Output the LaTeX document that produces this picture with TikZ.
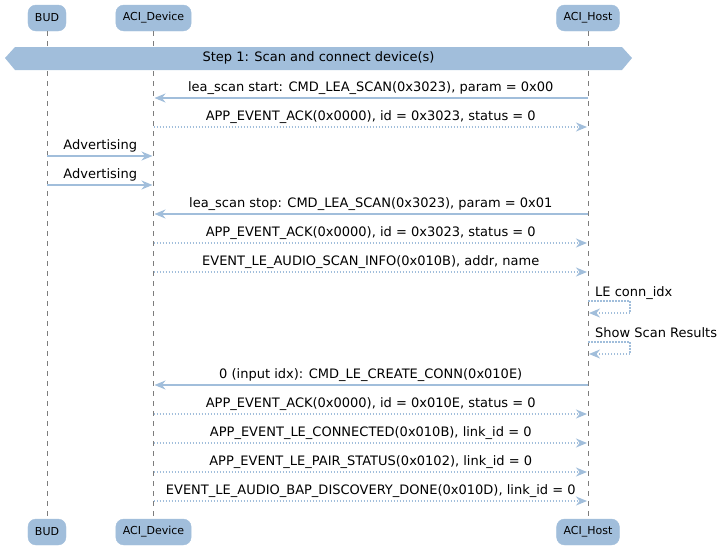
\documentclass[tikz,border=0pt]{standalone}
\usepackage{fontspec}
\setmainfont{DejaVu Sans}
\usetikzlibrary{arrows.meta}

\definecolor{seqblue}{RGB}{161,190,219}
\definecolor{lifegray}{RGB}{125,125,125}

\tikzset{
    actor/.style={fill=seqblue, draw=seqblue, rounded corners=8pt, minimum height=26pt,
        inner xsep=7pt, inner ysep=0pt, font=\fontsize{11}{13}\selectfont},
    lifeline/.style={draw=lifegray, line width=0.8pt, dash pattern=on 5pt off 5pt},
    call/.style={draw=seqblue, line width=1.5pt, shorten >=1pt,
        -{Stealth[length=11pt, width=9pt, inset=3.5pt]}},
    reply/.style={call, dash pattern=on 1.5pt off 1.5pt},
    lbl/.style={anchor=base, yshift=7pt, inner sep=0pt, font=\fontsize{13}{15}\selectfont},
    selflbl/.style={anchor=base west, inner sep=0pt, font=\fontsize{13}{15}\selectfont}
}

\begin{document}
\begin{tikzpicture}[x=1pt, y=-1pt]
    \useasboundingbox (0,0) rectangle (724,550);

    % Define the participants (top and bottom)
    \node[actor] (bud)   at (47,18)  {BUD};
    \node[actor] (dev)   at (153.5,18) {ACI\_Device};
    \node[actor] (host)  at (588,18) {ACI\_Host};
    \node[actor] (budB)  at (47,532)  {BUD};
    \node[actor] (devB)  at (153.5,532) {ACI\_Device};
    \node[actor] (hostB) at (588,532) {ACI\_Host};

    % Lifelines
    \draw[lifeline] (bud.south) -- (budB.north);
    \draw[lifeline] (dev.south) -- (devB.north);
    \draw[lifeline] (host.south) -- (hostB.north);

    % Step banner
    \fill[seqblue] (5,58) -- (15,47) -- (622,47) -- (632,58) -- (622,70) -- (15,70) -- cycle;
    \node[inner sep=0pt, font=\fontsize{13}{15}\selectfont] (step1) at (318.5,58) {Step 1: Scan and connect device(s)};

    % Rows of the messages
    \foreach \n/\y in {1/98, 2/127, 3/156, 4/185, 5/214, 6/243, 7/272, 8/301,
                       9/342, 10/385, 11/414, 12/443, 13/472, 14/501}
        \coordinate (r\n) at (0,\y);

    % Messages
    \draw[call]  (host |- r1) -- node[lbl] (m1) {lea\_scan start: CMD\_LEA\_SCAN(0x3023), param = 0x00} (dev |- r1);
    \draw[reply] (dev |- r2) -- node[lbl] (m2) {APP\_EVENT\_ACK(0x0000), id = 0x3023, status = 0} (host |- r2);
    \draw[call]  (bud |- r3) -- node[lbl] (m3) {Advertising} (dev |- r3);
    \draw[call]  (bud |- r4) -- node[lbl] (m4) {Advertising} (dev |- r4);
    \draw[call]  (host |- r5) -- node[lbl] (m5) {lea\_scan stop: CMD\_LEA\_SCAN(0x3023), param = 0x01} (dev |- r5);
    \draw[reply] (dev |- r6) -- node[lbl] (m6) {APP\_EVENT\_ACK(0x0000), id = 0x3023, status = 0} (host |- r6);
    \draw[reply] (dev |- r7) -- node[lbl] (m7) {EVENT\_LE\_AUDIO\_SCAN\_INFO(0x010B), addr, name} (host |- r7);

    % Self messages on the host
    \node[selflbl] (s1) at ([xshift=7pt, yshift=5pt]host |- r8) {LE conn\_idx};
    \draw[reply] (host |- r8) -- ++(42,0) -- ++(0,12) -- ++(-42,0);
    \node[selflbl] (s2) at ([xshift=7pt, yshift=5pt]host |- r9) {Show Scan Results};
    \draw[reply] (host |- r9) -- ++(42,0) -- ++(0,12) -- ++(-42,0);

    \draw[call]  (host |- r10) -- node[lbl] (m10) {0 (input idx): CMD\_LE\_CREATE\_CONN(0x010E)} (dev |- r10);
    \draw[reply] (dev |- r11) -- node[lbl] (m11) {APP\_EVENT\_ACK(0x0000), id = 0x010E, status = 0} (host |- r11);
    \draw[reply] (dev |- r12) -- node[lbl] (m12) {APP\_EVENT\_LE\_CONNECTED(0x010B), link\_id = 0} (host |- r12);
    \draw[reply] (dev |- r13) -- node[lbl] (m13) {APP\_EVENT\_LE\_PAIR\_STATUS(0x0102), link\_id = 0} (host |- r13);
    \draw[reply] (dev |- r14) -- node[lbl] (m14) {EVENT\_LE\_AUDIO\_BAP\_DISCOVERY\_DONE(0x010D), link\_id = 0} (host |- r14);

\end{tikzpicture}
\end{document}
